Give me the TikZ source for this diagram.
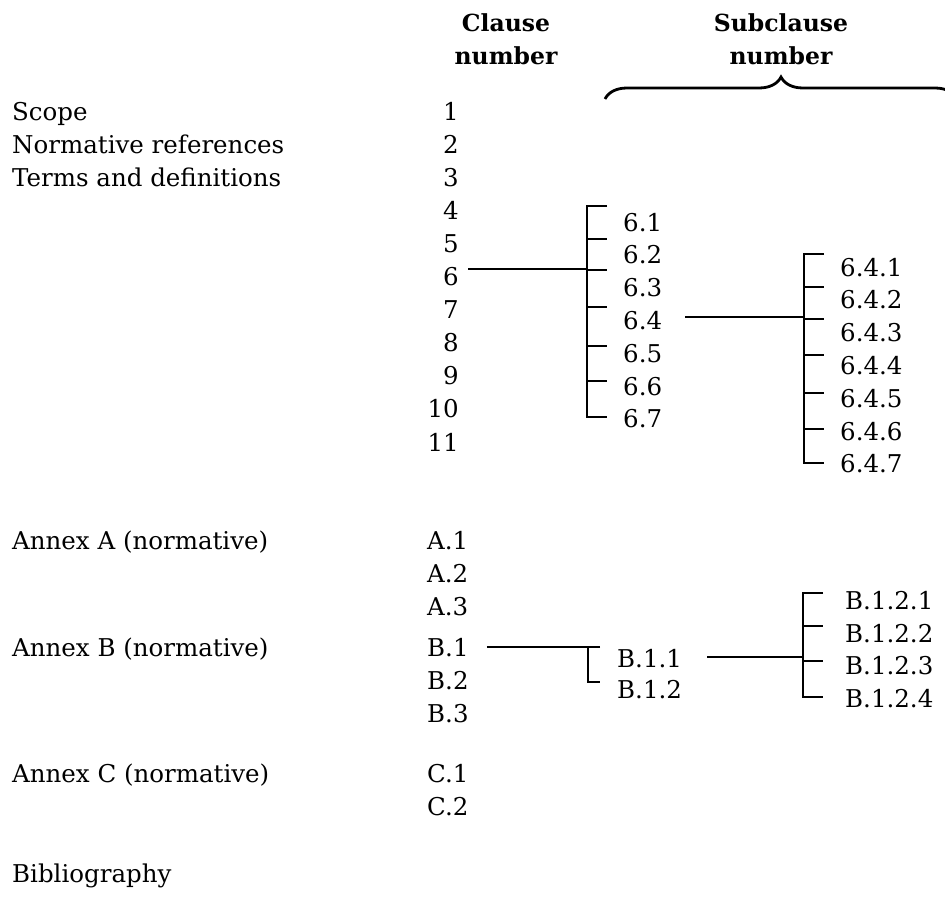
\documentclass[tikz,border=0pt]{standalone}
\usepackage{fontspec}
\setmainfont{DejaVu Serif}
\usetikzlibrary{decorations.pathreplacing}
\tikzset{
  entry/.style={inner sep=0pt, anchor=base west, font=\fontsize{24.5}{29}\selectfont},
  clnum/.style={entry, anchor=base east},
  heading/.style={inner sep=0pt, anchor=base, font=\fontsize{23.5}{28}\selectfont\bfseries},
  bar/.style={line width=2.8pt}
}

\begin{document}
\begin{tikzpicture}[x=1pt, y=-1pt]
        \useasboundingbox (0,0) rectangle (945,899);
        \clip (0,0) rectangle (945,899);
        % Column headings
        \node[heading] (clause) at (506,32) {Clause};
        \node[heading] (clausenum) at (506,65) {number};
        \node[heading] (subclause) at (781,32) {Subclause};
        \node[heading] (subclausenum) at (781,65) {number};
        \draw[bar, decorate, decoration={brace, amplitude=22pt}] (605,99) -- (957,99);
        % Titles on the left
        \foreach \n/\y/\t in {scope/120/Scope, normref/153/Normative references,
            terms/186/Terms and definitions, annexA/549/Annex A (normative),
            annexB/656/Annex B (normative), annexC/782/Annex C (normative),
            biblio/882/Bibliography}
          \node[entry] (\n) at (12,\y) {\t};
        % Clause numbers
        \foreach \i in {1,...,11}
          \node[clnum] (c\i) at (459,{120+33.1*(\i-1)}) {\i};
        \foreach \n/\y/\t in {A1/549/A.1, A2/582/A.2, A3/615/A.3, B1/656/B.1,
            B2/689/B.2, B3/722/B.3, C1/782/C.1, C2/815/C.2}
          \node[entry] (c\n) at (427,\y) {\t};
        % Subclauses of clause 6
        \foreach \i in {1,...,7}
          \node[entry] (s6\i) at (623,{231+32.8*(\i-1)}) {6.\i};
        \foreach \i in {1,...,7}
          \node[entry] (s64\i) at (840,{276+32.8*(\i-1)}) {6.4.\i};
        % Subclauses of annex B
        \node[entry] (sB11) at (617,667) {B.1.1};
        \node[entry] (sB12) at (617,698) {B.1.2};
        \foreach \i/\y in {1/609, 2/642, 3/674, 4/707}
          \node[entry] (sB12\i) at (845,\y) {B.1.2.\i};
        % Brackets
        \draw[bar] (607,206) -| (587,417) -- (607,417);
        \foreach \y in {239,270,307,346,381} \draw[bar] (587,\y) -- (607,\y);
        \draw[bar] (824,254) -| (804,463) -- (824,463);
        \foreach \y in {287,319,355,393,429} \draw[bar] (804,\y) -- (824,\y);
        \draw[bar] (600,647) -| (588,682) -- (600,682);
        \draw[bar] (823,593) -| (803,697) -- (823,697);
        \foreach \y in {626,661} \draw[bar] (803,\y) -- (823,\y);
        % Connectors
        \coordinate (j6) at (587,269);
        \coordinate (j64) at (804,317);
        \coordinate (jB1) at (588,647);
        \coordinate (jB11) at (803,657);
        \draw[bar] ([xshift=9pt]c6.east |- j6) -- (j6);
        \draw[bar] ([xshift=23pt]s64.east |- j64) -- (j64);
        \draw[bar] ([xshift=18pt]cB1.east |- jB1) -- (jB1);
        \draw[bar] ([xshift=25pt]sB11.east |- jB11) -- (jB11);
        \end{tikzpicture}
\end{document}
